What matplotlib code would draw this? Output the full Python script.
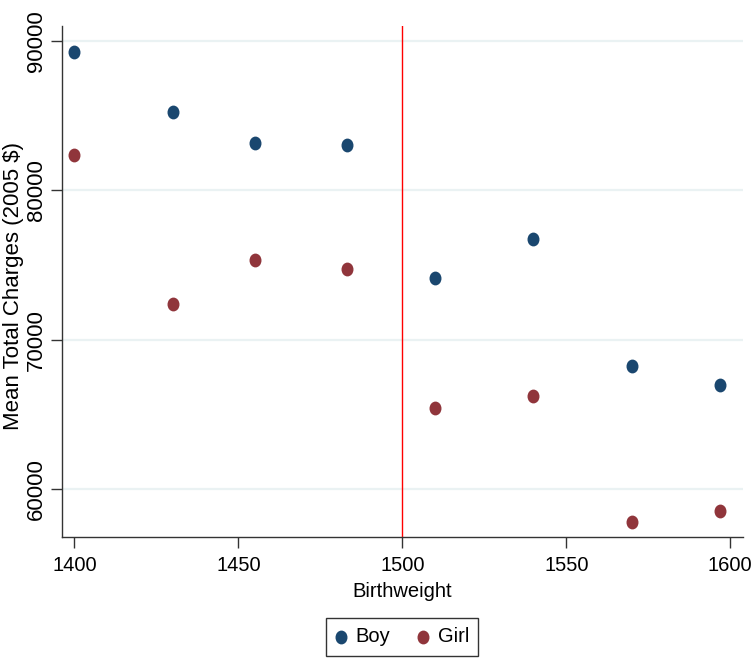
import matplotlib
matplotlib.use("Agg")
import matplotlib.pyplot as plt
from matplotlib.path import Path

plt.rcParams['font.family'] = ['Liberation Sans', 'DejaVu Sans']

birthweight = [1400, 1430, 1455, 1483, 1510, 1540, 1570, 1597]
boy = [89240, 85220, 83170, 83030, 74100, 76740, 68250, 66940]
girl = [82360, 72390, 75310, 74750, 65420, 66220, 57780, 58540]

navy = '#1a476f'
maroon = '#90353b'

# slightly tall oval marker, like the Stata output
circ = Path.unit_circle()
oval = Path(circ.vertices * [0.85, 1.0], circ.codes)

fig = plt.figure(figsize=(7.52, 6.6), dpi=100)
ax = fig.add_axes([0.0824, 0.1868, 0.9052, 0.7738])

for yv in [60000, 70000, 80000, 90000]:
    ax.axhline(yv, color='#eaf2f3', lw=1.6, zorder=0)
ax.axvline(1500, color='red', lw=1, zorder=1)

ax.scatter(birthweight, boy, s=80, marker=oval, color=navy, label='Boy', zorder=3)
ax.scatter(birthweight, girl, s=80, marker=oval, color=maroon, label='Girl', zorder=3)

ax.set_xlim(1396.2, 1603.8)
ax.set_ylim(56800, 91000)
ax.set_xticks([1400, 1450, 1500, 1550, 1600])
ax.set_yticks([60000, 70000, 80000, 90000])
ax.set_yticklabels(['60000', '70000', '80000', '90000'], rotation=90, va='center')

for s in ['top', 'right']:
    ax.spines[s].set_visible(False)
for s in ['left', 'bottom']:
    ax.spines[s].set_color('#333333')
    ax.spines[s].set_linewidth(1)
ax.tick_params(axis='both', length=8, width=1, color='#333333')
ax.tick_params(axis='x', pad=6, labelsize=14.5)
ax.tick_params(axis='y', pad=3, labelsize=16)

ax.set_xlabel('Birthweight', fontsize=14.5, labelpad=5)
ax.set_ylabel('Mean Total Charges (2005 $)', fontsize=16)
ax.yaxis.set_label_coords(-0.0565, 0.49)

leg = ax.legend(loc='center', bbox_to_anchor=(402 / 752, 1 - 637 / 660),
                bbox_transform=fig.transFigure, ncol=2, fontsize=14.5,
                frameon=True, fancybox=False, edgecolor='black',
                handletextpad=0.45, columnspacing=1.3, borderpad=0.45,
                handlelength=0.6, markerscale=1.0)
leg.get_frame().set_linewidth(1)

fig.savefig('out.png', dpi=100)
